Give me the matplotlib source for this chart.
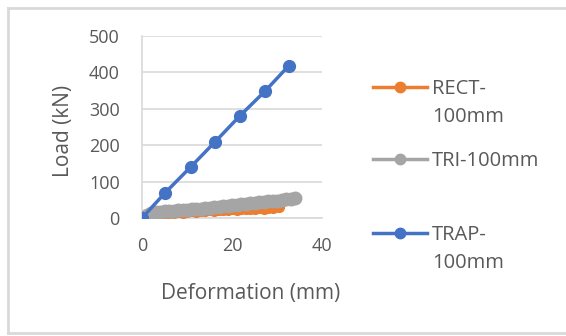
import matplotlib
matplotlib.use("Agg")
import matplotlib.pyplot as plt
from matplotlib.lines import Line2D

plt.rcParams['font.family'] = ['Open Sans', 'DejaVu Sans']

# Load-deformation readings for the three sections
rect_def = [0, 1, 2, 3, 4, 5, 6, 7, 8, 9, 10, 11, 12, 13, 14, 15, 16, 17, 18, 19,
            20, 21, 22, 23, 24, 25, 26, 27, 28, 29, 30.4]
rect_load = [0, 6, 10, 12, 9, 13, 15, 13, 16, 15, 17, 20, 16, 19, 18, 21, 19, 21, 23, 22,
             24, 23, 25, 24, 26, 25, 27, 26, 28, 27, 29]

tri_def = [0, 1, 2, 3, 4, 5, 6, 7, 8, 9, 10, 11, 12, 13, 14, 15, 16, 17, 18, 19,
           20, 21, 22, 23, 24, 25, 26, 27, 28, 29, 30, 31, 32, 33, 34]
tri_load = [0, 9, 14, 16, 17, 18, 19, 20, 21, 22, 23, 24, 25, 26, 27, 28, 29.5, 31,
            32, 33.5, 35, 36, 37.5, 39, 40, 41.5, 43, 44, 45.5, 47, 48, 49.5, 51, 52.5, 54]

trap_def = [0, 5.2, 10.8, 16.3, 21.7, 27.3, 32.6]
trap_load = [0, 70, 140, 210, 280, 348, 418]

series_names = ["RECT-\n100mm", "TRI-100mm", "TRAP-\n100mm"]
colors = ["#ED7D31", "#A5A5A5", "#4472C4"]
text_color = "#595959"

W, H = 566, 336
fig = plt.figure(figsize=(W / 100, H / 100), dpi=100)


def px(x, y):
    return x / W, 1 - y / H


# chart area border (left, top and bottom edges)
for xs, ys in [([8, 8], [8, 333]), ([8, W + 5], [8, 8]), ([8, W + 5], [333, 333])]:
    p0, p1 = px(xs[0], ys[0]), px(xs[1], ys[1])
    fig.add_artist(Line2D([p0[0], p1[0]], [p0[1], p1[1]], color="#d9d9d9", linewidth=2,
                          transform=fig.transFigure))

ax = fig.add_axes([142 / W, 1 - 218 / H, 180 / W, 182 / H])
ax.plot(rect_def, rect_load, color=colors[0], marker="o", markersize=7, linewidth=2.5, zorder=3)
ax.plot(tri_def, tri_load, color=colors[1], marker="o", markersize=9, linewidth=2.5, zorder=4)
ax.plot(trap_def, trap_load, color=colors[2], marker="o", markersize=8.5, linewidth=2.5, zorder=5)

ax.set_xlim(0, 40)
ax.set_ylim(0, 500)
ax.set_xticks([0, 20, 40])
ax.set_yticks([0, 100, 200, 300, 400, 500])
ax.grid(axis="y", color="#d9d9d9", linewidth=1.2)
ax.set_axisbelow(True)
for side in ["top", "right"]:
    ax.spines[side].set_visible(False)
for side in ["left", "bottom"]:
    ax.spines[side].set_color("#d9d9d9")
    ax.spines[side].set_linewidth(1.2)
ax.tick_params(length=0, labelsize=13, labelcolor=text_color)
ax.tick_params(axis="y", pad=16)
ax.tick_params(axis="x", pad=14)

fig.text(*px(63, 131), "Load (kN)", rotation=90, ha="center", va="center",
         fontsize=15, color=text_color)
fig.text(*px(251, 293), "Deformation (mm)", ha="center", va="center",
         fontsize=15, color=text_color)

# legend entries drawn beside the plot
entry_y = [87, 159, 233]
for name, c, yy in zip(series_names, colors, entry_y):
    x0, y0 = px(373, yy)
    x1, _ = px(427, yy)
    fig.add_artist(Line2D([x0, x1], [y0, y0], color=c, linewidth=2.5, transform=fig.transFigure))
    fig.add_artist(Line2D([(x0 + x1) / 2], [y0], color=c, marker="o", markersize=7.5,
                          transform=fig.transFigure))
    fig.text(*px(432, yy - 8), name, ha="left", va="top", fontsize=14.5, color=text_color,
             linespacing=1.55, transform=fig.transFigure)

fig.savefig("out.png", dpi=100)
